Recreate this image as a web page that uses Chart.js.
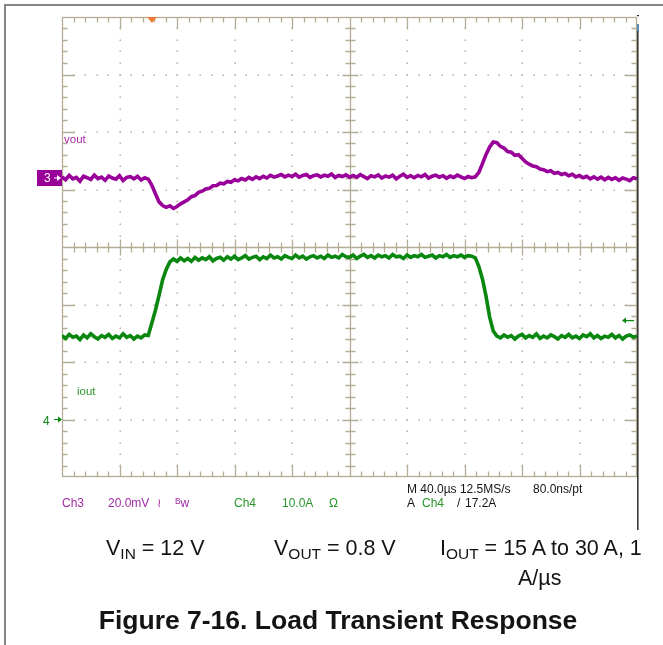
<!DOCTYPE html>
<html>
<head>
<meta charset="utf-8">
<script src="https://cdn.jsdelivr.net/npm/chart.js@4.4.1/dist/chart.umd.min.js"></script>
<style>
  html, body { margin: 0; padding: 0; background: #fff; }
  #wrap { position: relative; width: 663px; height: 645px; overflow: hidden;
          font-family: "Liberation Sans", Arial, sans-serif; }
  #scope { position: absolute; left: 0; top: 0; }
  .t { position: absolute; white-space: nowrap; line-height: 1; }
  .s { font-size: 12px; }
  .p { color: #a22aa2; }
  .g { color: #2a962a; }
  .k { color: #151515; }
  .cap { font-size: 21.5px; color: #141414; }
  .sub { font-size: 0.72em; position: relative; top: 0.28em; }
  .sup { font-size: 0.7em; position: relative; top: -0.35em; }
  .title { font-size: 26.5px; font-weight: bold; color: #141414; transform: translateX(-50%); }
</style>
</head>
<body>
<div id="wrap">
  <canvas id="scope" width="663" height="645"></canvas>

  <!-- channel settings readout -->
  <div class="t s p" style="left:62px;top:497px">Ch3</div>
  <div class="t s p" style="left:108px;top:497px">20.0mV</div>
  <div class="t s p" style="left:157px;top:497px">≀</div>
  <div class="t s p" style="left:175px;top:497px"><span class="sup">B</span>w</div>
  <div class="t s g" style="left:234px;top:497px">Ch4</div>
  <div class="t s g" style="left:282px;top:497px">10.0A</div>
  <div class="t s g" style="left:329px;top:497px">Ω</div>

  <!-- timebase and trigger readout -->
  <div class="t s k" style="left:407px;top:483px">M 40.0µs 12.5MS/s</div>
  <div class="t s k" style="left:533px;top:483px">80.0ns/pt</div>
  <div class="t s k" style="left:407px;top:497px">A</div>
  <div class="t s g" style="left:422px;top:497px">Ch4</div>
  <div class="t s k" style="left:457px;top:497px">/</div>
  <div class="t s k" style="left:465px;top:497px">17.2A</div>

  <!-- test conditions and caption -->
  <div class="t cap" style="left:106px;top:538px">V<span class="sub">IN</span> = 12 V</div>
  <div class="t cap" style="left:274px;top:538px">V<span class="sub">OUT</span> = 0.8 V</div>
  <div class="t cap" style="left:440px;top:538px">I<span class="sub">OUT</span> = 15 A to 30 A, 1</div>
  <div class="t cap" style="left:518px;top:568px">A/µs</div>
  <div class="t title" style="left:338px;top:607px">Figure 7-16. Load Transient Response</div>
</div>

<script>
// Record settings
const timeStepUs = 2.5;        // spacing between stored samples
const timePerDivUs = 40;       // horizontal scale
const timeDivs = 10;
const vertDivs = 8;
const voutRangeMv = [-104, 56];  // Ch3, 20 mV/div, marker "3" at 0 mV
const ioutRangeA = [-10, 70];    // Ch4, 10 A/div, marker "4" at 0 A
const triggerTimeUs = 62.6;
const triggerLevelA = 17.2;

// Ch3: output voltage deviation (mV), one value per sample
const voutMv = [
   0.4, -0.6,  0.9, -0.3,  0.2, -1.1,  0.6,  0.1, -0.5,  1.0,
  -0.2,  0.3, -0.8,  0.7,  0.0, -0.4,  0.8, -0.9,  0.2,  0.5,
  -0.3,  0.6, -0.7,  0.1, -0.4, -2.5, -5.5, -8.3, -9.6,-10.2,
  -9.7,-10.6, -9.9, -9.0, -8.3, -7.6, -6.5, -6.1, -5.0, -4.6,
  -3.8, -3.6, -2.7, -2.6, -1.8, -2.0, -1.2, -1.5, -0.6, -1.0,
  -0.2, -0.7,  0.2, -0.5,  0.4, -0.2,  0.6,  0.0,  0.9,  0.3,
   0.7,  1.2,  0.4,  1.0,  0.5,  1.3,  0.3,  0.9,  1.2,  0.2,
   0.8,  1.1,  0.4,  1.0,  0.6,  1.4,  0.2,  0.9,  0.5,  1.1,
   0.3,  0.9,  0.2,  1.2,  0.5, -0.2,  0.8,  0.4,  1.1,  0.0,
   0.7,  0.3,  1.0, -0.3,  0.6,  1.3,  0.2,  0.8,  0.1,  0.9,
   0.4,  1.2,  0.0,  0.6,  1.0,  0.3,  0.8, -0.1,  0.7,  0.2,
   1.0,  0.4, -0.2,  0.5,  0.1,  0.4,  2.0,  5.0,  8.2, 10.8,
  12.5, 12.3, 11.0, 10.4,  9.2,  9.0,  7.9,  8.1,  6.9,  5.6,
   4.8,  4.2,  3.9,  3.1,  2.9,  2.2,  2.5,  1.6,  1.9,  1.2,
   1.6,  0.8,  1.3,  0.4,  0.9,  0.1,  0.6, -0.3,  0.4, -0.4,
   0.3, -0.6,  0.2, -0.5,  0.1, -0.8,  0.0, -0.4, -0.9,  0.1,
  -0.3
];

// Ch4: output current (A), one value per sample
const ioutA = [
  14.6, 14.1, 14.8, 14.3, 14.5, 13.9, 14.7, 14.2, 14.9, 14.4,
  14.0, 14.6, 14.3, 14.8, 14.1, 14.5, 14.2, 14.9, 14.3, 14.6,
  14.0, 14.5, 14.2, 14.7, 14.6, 16.8, 19.0, 21.6, 24.3, 26.1,
  27.4, 27.9, 27.5, 28.1, 27.6, 28.0, 27.5, 28.2, 27.7, 28.1,
  27.8, 28.3, 27.6, 28.0, 28.2, 27.7, 28.3, 27.9, 28.4, 27.8,
  28.1, 28.5, 27.9, 28.2, 28.4, 27.8, 28.3, 28.0, 28.6, 28.1,
  28.3, 27.9, 28.5, 28.2, 28.0, 28.6, 28.1, 28.4, 27.9, 28.3,
  28.5, 28.1, 28.4, 28.0, 28.6, 28.2, 28.4, 28.1, 28.7, 28.3,
  28.2, 28.6, 28.0, 28.4, 28.7, 28.2, 28.5, 28.1, 28.6, 28.3,
  28.5, 28.1, 28.7, 28.3, 28.4, 28.0, 28.6, 28.2, 28.5, 28.3,
  28.7, 28.2, 28.4, 28.6, 28.1, 28.5, 28.3, 28.7, 28.2, 28.5,
  28.3, 28.6, 28.2, 28.5, 28.4, 28.1, 26.6, 24.4, 21.4, 17.8,
  15.4, 14.5, 14.2, 14.7, 14.3, 14.6, 14.0, 14.5, 14.8, 14.2,
  14.6, 14.3, 14.9, 14.1, 14.5, 14.2, 14.7, 14.4, 14.0, 14.6,
  14.3, 14.8, 14.2, 14.5, 14.1, 14.7, 14.4, 14.9, 14.2, 14.6,
  14.1, 14.5, 14.3, 14.8, 14.2, 14.6, 14.0, 14.5, 14.7, 14.3,
  14.5
];

const VOUT_COLOR = '#990099';
const IOUT_COLOR = '#0a870f';
const FRAME_COLOR = '#b4ad95';
const DOT_COLOR = '#b7b09a';

const toPoints = arr => arr.map((v, i) => ({ x: i * timeStepUs, y: v }));

// Scope graticule: frame, dotted divisions, centre cross with ticks
const graticule = {
  id: 'graticule',
  beforeDatasetsDraw(chart) {
    const { ctx, chartArea: a, scales } = chart;
    const xs = scales.x, yd = scales.div;
    const tMax = timePerDivUs * timeDivs;
    const minorT = timePerDivUs / 5;
    const half = vertDivs / 2;
    const px = t => xs.getPixelForValue(t);
    const py = d => yd.getPixelForValue(d);
    ctx.save();

    // dotted division lines
    ctx.fillStyle = DOT_COLOR;
    for (let j = 1; j < timeDivs; j++) {
      if (j === timeDivs / 2) continue;
      const x = Math.round(px(j * timePerDivUs));
      for (let k = 1; k < vertDivs * 5; k++) {
        const y = Math.round(py(-half + k * 0.2));
        ctx.fillRect(x - 0.5, y - 0.5, 1.5, 1.5);
      }
    }
    for (let j = 1; j < vertDivs; j++) {
      if (j === half) continue;
      const y = Math.round(py(-half + j));
      for (let k = 1; k < timeDivs * 5; k++) {
        const x = Math.round(px(k * minorT));
        ctx.fillRect(x - 0.5, y - 0.5, 1.5, 1.5);
      }
    }

    ctx.strokeStyle = FRAME_COLOR;
    ctx.lineWidth = 1.3;
    const L = Math.round(a.left) + 0.5, R = Math.round(a.right) - 0.5;
    const T = Math.round(a.top) + 0.5, B = Math.round(a.bottom) - 0.5;
    ctx.strokeRect(L, T, R - L, B - T);

    const cx = Math.round(px(tMax / 2)) + 0.5;
    const cy = Math.round(py(0)) + 0.5;
    ctx.beginPath();
    ctx.moveTo(cx, T); ctx.lineTo(cx, B);
    ctx.moveTo(L, cy); ctx.lineTo(R, cy);

    // ticks along horizontal edges and centre line
    for (let k = 1; k < timeDivs * 5; k++) {
      const x = Math.round(px(k * minorT)) + 0.5;
      const major = k % 5 === 0;
      const len = major ? 12 : 5;
      ctx.moveTo(x, T); ctx.lineTo(x, T + len);
      ctx.moveTo(x, B); ctx.lineTo(x, B - len);
      const h = major ? 8 : 5;
      ctx.moveTo(x, cy - h); ctx.lineTo(x, cy + h);
    }
    // ticks along vertical edges and centre line
    for (let k = 1; k < vertDivs * 5; k++) {
      const y = Math.round(py(-half + k * 0.2)) + 0.5;
      const major = k % 5 === 0;
      const len = major ? 12 : 5;
      ctx.moveTo(L, y); ctx.lineTo(L + len, y);
      ctx.moveTo(R, y); ctx.lineTo(R - len, y);
      const h = major ? 8 : 5;
      ctx.moveTo(cx - h, y); ctx.lineTo(cx + h, y);
    }
    ctx.stroke();
    ctx.restore();
  },

  afterDatasetsDraw(chart) {
    const { ctx, chartArea: a, scales } = chart;
    const xs = scales.x;
    ctx.save();

    // outer page border
    ctx.fillStyle = '#858585';
    ctx.fillRect(4, 4, 663 - 4, 2);
    ctx.fillRect(4, 4, 2, 645 - 4);

    // right screen edge
    ctx.fillStyle = '#3a3a3a';
    ctx.fillRect(Math.round(a.right), 27, 1.6, 503);
    ctx.fillStyle = '#5a88b8';
    ctx.fillRect(Math.round(a.right), 24, 2, 7);
    ctx.fillStyle = '#222';
    ctx.fillRect(Math.round(a.right), 15, 2, 1.2);

    // trigger position marker
    const tx = xs.getPixelForValue(triggerTimeUs);
    ctx.fillStyle = '#f47b35';
    ctx.beginPath();
    ctx.moveTo(tx - 5, a.top);
    ctx.lineTo(tx + 5, a.top);
    ctx.lineTo(tx, a.top + 6);
    ctx.closePath();
    ctx.fill();

    // Ch3 ground marker
    const y3 = scales.yV.getPixelForValue(0);
    ctx.fillStyle = VOUT_COLOR;
    ctx.fillRect(37, Math.round(y3) - 8, a.left - 37, 16);
    ctx.fillStyle = '#fff';
    ctx.font = '12px "Liberation Sans", Arial, sans-serif';
    ctx.textBaseline = 'middle';
    ctx.fillText('3', 44, y3 + 1);
    drawArrow(ctx, 54, a.left - 1, y3, '#fff', 1);

    // Ch4 ground marker
    const y4 = scales.yI.getPixelForValue(0);
    ctx.fillStyle = IOUT_COLOR;
    ctx.fillText('4', 43, y4 + 2);
    drawArrow(ctx, 54, a.left, y4, IOUT_COLOR, 1);

    // trigger level marker
    const yt = scales.yI.getPixelForValue(triggerLevelA);
    drawArrow(ctx, a.right - 3, a.right - 15, yt, IOUT_COLOR, 1.3);

    // trace labels
    ctx.font = '11.5px "Liberation Sans", Arial, sans-serif';
    ctx.fillStyle = '#a62aa6';
    ctx.fillText('vout', a.left + 2, 140);
    ctx.fillStyle = '#2a962a';
    ctx.fillText('iout', a.left + 15, 392);
    ctx.restore();
  }
};

function drawArrow(ctx, x0, x1, y, color, w) {
  const dir = Math.sign(x1 - x0);
  ctx.strokeStyle = color;
  ctx.fillStyle = color;
  ctx.lineWidth = w;
  ctx.beginPath();
  ctx.moveTo(x0, y);
  ctx.lineTo(x1 - dir * 3, y);
  ctx.stroke();
  ctx.beginPath();
  ctx.moveTo(x1, y);
  ctx.lineTo(x1 - dir * 4, y - 3);
  ctx.lineTo(x1 - dir * 4, y + 3);
  ctx.closePath();
  ctx.fill();
}

new Chart(document.getElementById('scope'), {
  type: 'line',
  data: {
    datasets: [
      { label: 'vout', data: toPoints(voutMv), yAxisID: 'yV',
        borderColor: VOUT_COLOR, borderWidth: 3.6, borderJoinStyle: 'miter',
        pointRadius: 0, tension: 0, fill: false },
      { label: 'iout', data: toPoints(ioutA), yAxisID: 'yI',
        borderColor: IOUT_COLOR, borderWidth: 3.6, borderJoinStyle: 'miter',
        pointRadius: 0, tension: 0, fill: false }
    ]
  },
  options: {
    responsive: false,
    animation: false,
    devicePixelRatio: 1,
    layout: { padding: { left: 62, top: 17, right: 26, bottom: 168 } },
    plugins: { legend: { display: false }, tooltip: { enabled: false } },
    scales: {
      x: { type: 'linear', axis: 'x', min: 0, max: timePerDivUs * timeDivs, display: false },
      div: { type: 'linear', axis: 'y', min: -vertDivs / 2, max: vertDivs / 2, display: false },
      yV: { type: 'linear', axis: 'y', min: voutRangeMv[0], max: voutRangeMv[1], display: false },
      yI: { type: 'linear', axis: 'y', min: ioutRangeA[0], max: ioutRangeA[1], display: false }
    }
  },
  plugins: [graticule]
});
</script>
</body>
</html>
